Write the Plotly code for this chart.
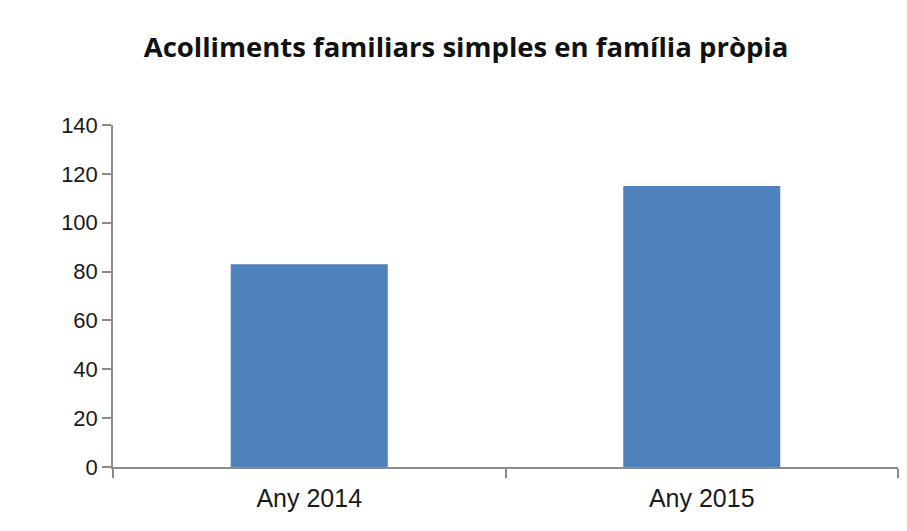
import plotly.graph_objects as go

categories = ["Any 2014", "Any 2015"]
values = [83, 115]
y_ticks = [0, 20, 40, 60, 80, 100, 120, 140]

fig = go.Figure(go.Bar(x=categories, y=values, marker=dict(color="#4f81bd", line=dict(width=0)), width=0.4))

axis_color = "#8c8c8c"
W, H = 899, 523
fig.update_layout(
    width=W, height=H,
    paper_bgcolor="white", plot_bgcolor="white",
    margin=dict(l=105, r=9, t=117, b=64),
    title=dict(text="<b>Acolliments familiars simples en família pròpia</b>",
               x=(466 - 8) / W, xanchor="center", y=1 - 39 / H, yanchor="middle",
               font=dict(family="Open Sans", size=27.5, color="#111111")),
    showlegend=False,
    font=dict(family="Liberation Sans, Arial", color="#222222"),
)
fig.update_xaxes(type="category", showline=True, linecolor=axis_color, linewidth=1.5,
                 ticks="outside", tickson="boundaries", ticklen=9, tickcolor=axis_color, tickwidth=1.5,
                 tickfont=dict(size=25, family="Liberation Sans, Arial", color="#1a1a1a"),
                 ticklabelstandoff=8,
                 showgrid=False, zeroline=False)
fig.update_yaxes(range=[0, 140], tickvals=y_ticks, showline=True, linecolor=axis_color, linewidth=1.5,
                 ticks="outside", ticklen=9, tickcolor=axis_color, tickwidth=1.5,
                 tickfont=dict(size=22, family="Liberation Sans, Arial", color="#1a1a1a"),
                 showgrid=False, zeroline=False)

fig.write_html("out.html")
